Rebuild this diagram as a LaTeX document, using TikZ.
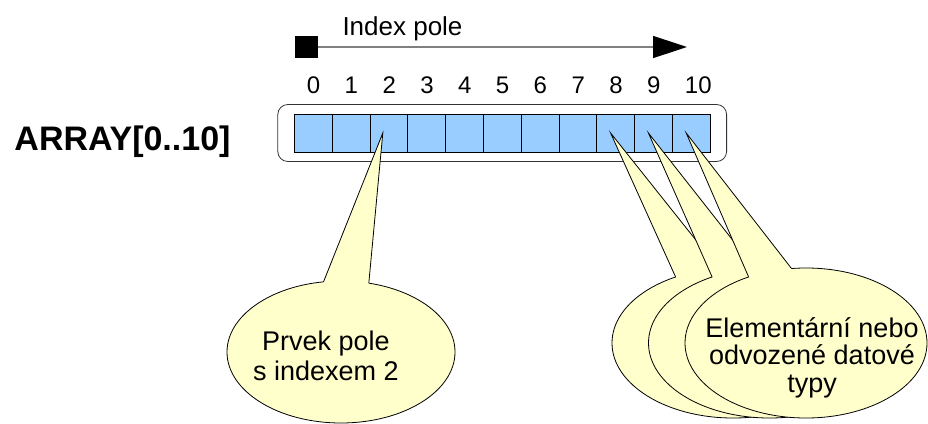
\documentclass[tikz,border=0pt]{standalone}
\usepackage{fontspec}
\setmainfont{Liberation Sans}
\usetikzlibrary{arrows.meta}
\usetikzlibrary{positioning}
\usetikzlibrary{backgrounds}
\usetikzlibrary{fit}
\usetikzlibrary{shapes.geometric}
\definecolor{CellBlue}{HTML}{99CCFF}
\definecolor{NoteYellow}{HTML}{FFFFCC}
\definecolor{PoleGray}{HTML}{808080}

\begin{document}
\begin{tikzpicture}[x=1pt,y=-1pt,
  cell/.style={draw,fill=CellBlue,line width=0.8pt,minimum width=37.8pt,minimum height=38pt,inner sep=0pt,outer sep=0pt},
  idx/.style={anchor=base west,xshift=-6.5pt,inner sep=0pt,font=\fontsize{24}{28}\selectfont},
  bubble/.style={ellipse,draw,fill=NoteYellow,line width=0.8pt,inner sep=0pt,outer sep=0pt},
  note/.style={align=center,anchor=base}]
  \useasboundingbox (0,0) rectangle (928,423);

  % cells of the array
  \node[cell] (c0) at (313.2,133) {};
  \foreach \i [evaluate=\i as \p using int(\i-1)] in {1,...,10}
    \node[cell,right=0pt of c\p] (c\i) {};
  \foreach \i in {0,...,10}
    \node[idx] (n\i) at (c\i |- 0,93.5) {\i};

  \begin{scope}[on background layer]
    \node[draw=black!80,fill=white,rounded corners=10pt,line width=0.8pt,
      inner xsep=16.5pt,inner ysep=9.5pt,fit=(c0)(c10)] (frame) {};
  \end{scope}

  \node[anchor=base,font=\fontsize{34}{40}\selectfont\bfseries] (title) at (122.5,150) {ARRAY[0..10]};

  % index arrow
  \node[fill=black,minimum width=23pt,minimum height=22pt,inner sep=0pt] (start) at (306.5,47) {};
  \coordinate (end) at (687,47);
  \draw[PoleGray,line width=1.5pt,-{Triangle[length=34pt,width=22pt,color=black]}] (start) -- (end);
  \node[anchor=base,font=\fontsize{26}{30}\selectfont] (pole) at (402.5,35) {Index pole};

  % callout for element 2
  \coordinate (t2) at ([xshift=-6pt]c2.center);
  \node[bubble,minimum width=228pt,minimum height=142pt] (e2) at (341,352) {};
  \fill[NoteYellow] (t2) -- (e2.104) -- (e2.center) -- (e2.68.6) -- cycle;
  \draw[line width=0.8pt] (e2.104) -- (t2) -- (e2.68.6);
  \node[note,font=\fontsize{27}{30}\selectfont] (txt2) at (326,380) {Prvek pole\\s indexem 2};

  % callouts for elements 8, 9, 10
  \foreach \k/\cx in {8/733,9/769.5,10/806}{
    \coordinate (t\k) at ([xshift=-5pt]c\k.center);
    \node[bubble,minimum width=242pt,minimum height=150pt] (e\k) at (\cx,343) {};
    \fill[NoteYellow] (t\k) -- (e\k.131) -- (e\k.center) -- (e\k.101) -- cycle;
    \draw[line width=0.8pt] (e\k.131) -- (t\k) -- (e\k.101);
  }
  \node[note,font=\fontsize{27}{27.5}\selectfont] (txt10) at (812,392) {Elementární nebo\\odvozené datové\\typy};

\end{tikzpicture}
\end{document}
